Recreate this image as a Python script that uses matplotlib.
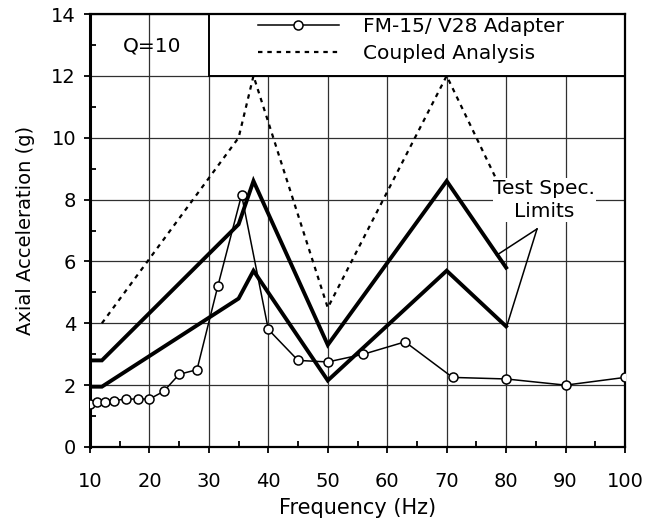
import matplotlib
matplotlib.use("Agg")
import matplotlib.pyplot as plt
from matplotlib.patches import Rectangle
from matplotlib.ticker import MultipleLocator

plt.rcParams['font.family'] = ['DejaVu Sans']

# FM-15/V28 Adapter measured response
adapter_freq = [10, 11.2, 12.5, 14, 16, 18, 20, 22.4, 25, 28, 31.5, 35.5, 40, 45, 50, 56, 63, 71, 80, 90, 100]
adapter_acc = [1.4, 1.45, 1.45, 1.5, 1.55, 1.55, 1.55, 1.8, 2.35, 2.5, 5.2, 8.15, 3.8, 2.8, 2.75, 3.0, 3.4, 2.25, 2.2, 2.0, 2.25]

# Coupled analysis
coupled_freq = [12, 35, 37.5, 50, 70, 80]
coupled_acc = [4.0, 10.0, 12.0, 4.5, 12.0, 8.0]

# Test spec limits (upper / lower)
spec_hi_freq = [10, 12, 35, 37.5, 50, 70, 80]
spec_hi_acc = [2.8, 2.8, 7.2, 8.6, 3.3, 8.6, 5.8]
spec_lo_freq = [10, 12, 35, 37.5, 50, 70, 80]
spec_lo_acc = [1.95, 1.95, 4.8, 5.7, 2.15, 5.7, 3.9]

x_ticks = [10, 20, 30, 40, 50, 60, 70, 80, 90, 100]
y_ticks = [0, 2, 4, 6, 8, 10, 12, 14]

fig = plt.figure(figsize=(6.45, 5.31), dpi=100)
ax = fig.add_axes([90/645, 1-447/531, 535/645, 433/531])

ax.set_xlim(10, 100)
ax.set_ylim(0, 14)
ax.set_xticks(x_ticks)
ax.set_yticks(y_ticks)
ax.xaxis.set_minor_locator(MultipleLocator(5))
ax.yaxis.set_minor_locator(MultipleLocator(1))
ax.tick_params(which='major', direction='out', length=4, width=1.3, labelsize=14)
ax.tick_params(axis='x', which='major', pad=14)
ax.tick_params(axis='y', which='major', pad=6)
ax.tick_params(which='minor', direction='in', length=4, width=1.3)
ax.grid(True, which='major', color='#303030', linewidth=0.9, linestyle='-')

for s in ax.spines.values():
    s.set_linewidth(1.6)
ax.spines['left'].set_linewidth(2.2)

# legend box region
ax.add_patch(Rectangle((30, 12), 70, 2, facecolor='white', edgecolor='black', linewidth=1.4, zorder=2))

ax.plot(spec_hi_freq, spec_hi_acc, color='black', linewidth=2.8, zorder=3, solid_joinstyle='miter')
ax.plot(spec_lo_freq, spec_lo_acc, color='black', linewidth=2.8, zorder=3, solid_joinstyle='miter')
h2, = ax.plot(coupled_freq, coupled_acc, color='black', linewidth=1.6, linestyle=(0, (2, 2.2)), zorder=3,
              label='Coupled Analysis')
h1, = ax.plot(adapter_freq, adapter_acc, color='black', linewidth=1.1, marker='o', markersize=6.5,
              markerfacecolor='white', markeredgecolor='black', markeredgewidth=1.1, zorder=4,
              label='FM-15/ V28 Adapter')

leg = ax.legend([h1, h2], ['FM-15/ V28 Adapter', 'Coupled Analysis'],
                loc='upper left', bbox_to_anchor=(0.314, 0.993), frameon=False,
                fontsize=14.5, handlelength=4.0, handletextpad=1.2, labelspacing=0.42,
                borderpad=0, borderaxespad=0, numpoints=1)
leg.set_zorder(6)

ax.text(15.6, 12.95, 'Q=10', fontsize=14.5, ha='left', va='center', zorder=6)

# Test spec annotation
ax.text(86.4, 7.98, 'Test Spec.\nLimits', fontsize=14.5, ha='center', va='center', linespacing=1.3,
        zorder=6, bbox=dict(facecolor='white', edgecolor='none', pad=0.5))
ax.plot([85.2, 78.4], [7.05, 6.2], color='black', linewidth=1.1, zorder=5)
ax.plot([85.2, 80.1], [7.05, 3.9], color='black', linewidth=1.1, zorder=5)

ax.set_xlabel('Frequency (Hz)', fontsize=15, labelpad=5)
ax.set_ylabel('Axial Acceleration (g)', fontsize=14, labelpad=12)

fig.savefig('out.png', dpi=100)
